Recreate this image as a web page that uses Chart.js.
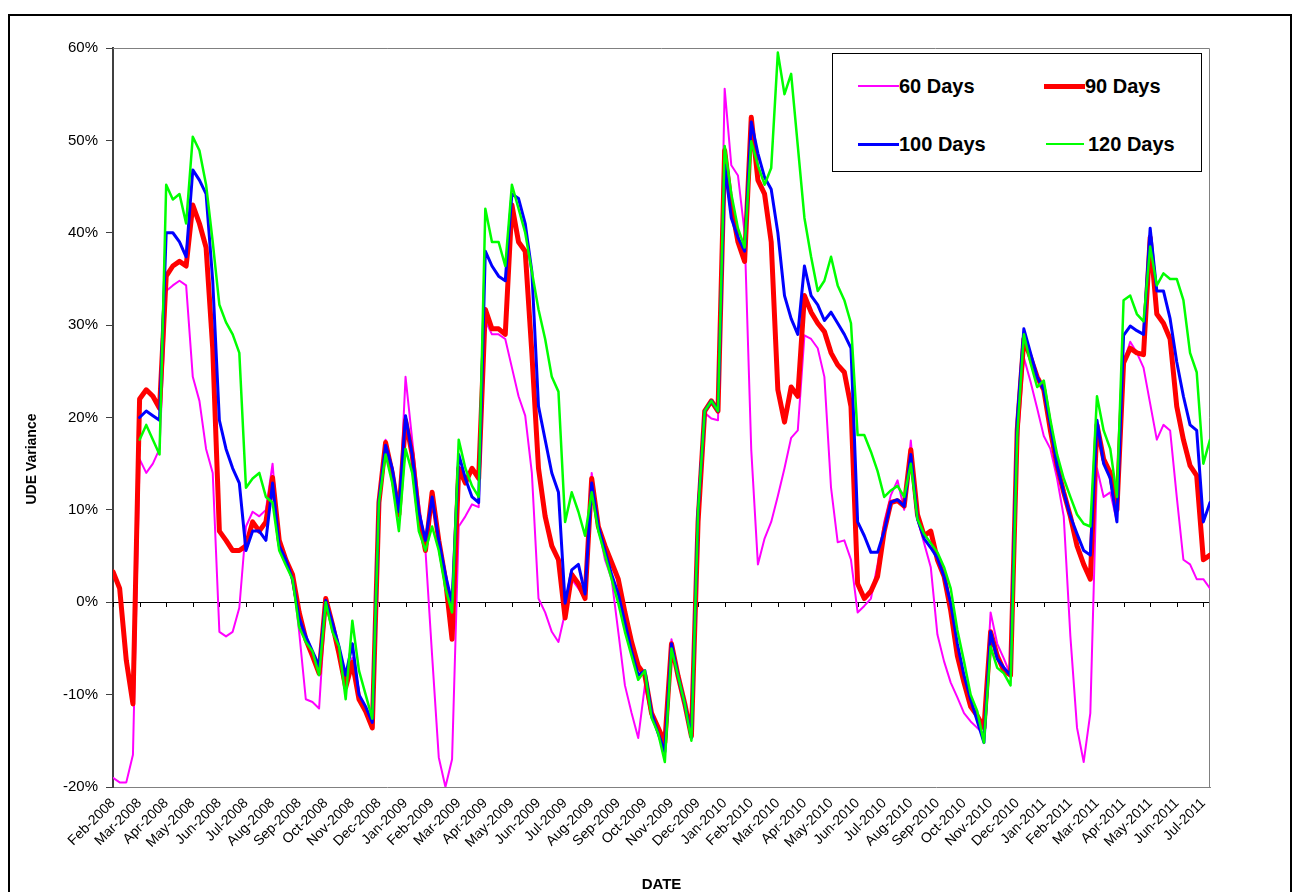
<!DOCTYPE html>
<html>
<head>
<meta charset="utf-8">
<script src="https://cdn.jsdelivr.net/npm/chart.js@4.4.1/dist/chart.umd.min.js"></script>
<style>
  html, body { margin: 0; padding: 0; background: #fff; }
  #wrap { position: relative; width: 1296px; height: 892px; overflow: hidden; }
  #frame { position: absolute; left: 8px; top: 14px; width: 1280px; height: 900px; border: 2px solid #000; }
  #udeChart { position: absolute; left: 0; top: 0; }
  #legend { position: absolute; left: 832px; top: 53px; width: 368px; height: 117px; border: 1px solid #000;
            background: #fff; font: bold 20px 'Liberation Sans', Arial, sans-serif; color: #000; }
  .item { position: absolute; height: 24px; display: flex; align-items: center; white-space: nowrap; }
  .swatch { width: 41px; }
</style>
</head>
<body>
<div id="wrap">
  <div id="frame"></div>
  <canvas id="udeChart" width="1296" height="892"></canvas>
  <div id="legend">
    <div class="item" style="left:25px; top:20px;"><div class="swatch" style="height:2px; background:#FF00FF;"></div><span>60 Days</span></div>
    <div class="item" style="left:211px; top:20px;"><div class="swatch" style="height:5px; background:#FF0000;"></div><span>90 Days</span></div>
    <div class="item" style="left:25px; top:78px;"><div class="swatch" style="height:3px; background:#0000FF;"></div><span>100 Days</span></div>
    <div class="item" style="left:213px; top:78px;"><div class="swatch" style="width:38px; height:2px; background:#00FF00;"></div><span style="margin-left:4px;">120 Days</span></div>
  </div>
</div>
<script>
// Month tick labels (one per month, Feb-2008 .. Jul-2011)
const monthLabels = [
  'Feb-2008','Mar-2008','Apr-2008','May-2008','Jun-2008','Jul-2008','Aug-2008','Sep-2008','Oct-2008','Nov-2008','Dec-2008',
  'Jan-2009','Feb-2009','Mar-2009','Apr-2009','May-2009','Jun-2009','Jul-2009','Aug-2009','Sep-2009','Oct-2009','Nov-2009','Dec-2009',
  'Jan-2010','Feb-2010','Mar-2010','Apr-2010','May-2010','Jun-2010','Jul-2010','Aug-2010','Sep-2010','Oct-2010','Nov-2010','Dec-2010',
  'Jan-2011','Feb-2011','Mar-2011','Apr-2011','May-2011','Jun-2011','Jul-2011'
];

// one sample per quarter month (approx weekly), values in %
const SAMPLES_PER_MONTH = 4;

const days60 = [
  -19, -19.5, -19.5, -16.5,   15.5, 14, 15, 16.6,   33.7, 34.3, 34.8, 34.3,   24.4, 21.8, 16.6, 14,
  -3.2, -3.7, -3.2, -0.6,   8.2, 9.8, 9.3, 10,   15, 6.1, 4.6, 3,   -3.2, -10.5, -10.8, -11.5,
  0, -2.7, -5.8, -8.5,   -6, -10.5, -11.8, -13.3,   10.8, 17.6, 14.5, 9,   24.4, 17.6, 10.8, 5.6,
  -5.8, -16.8, -20, -17,   8.2, 9.3, 10.6, 10.3,   30.5, 29, 29, 28.5,   25.4, 22.3, 20.2, 14,
  0.4, -1.1, -3.2, -4.3,   -1.1, 2.5, 1.5, 0.4,   14, 8.2, 4.6, 2.5,   -3.2, -9, -12, -14.7,
  -9, -12.5, -14, -16,   -4, -8, -11, -14.5,   9.8, 20.5, 19.9, 19.7,   55.6, 47.3, 46.2, 40,
  16.5, 4.1, 6.9, 8.7,   11.5, 14.5, 17.8, 18.6,   28.9, 28.5, 27.5, 24.4,   12.4, 6.5, 6.7, 4.6,
  -1.1, -0.4, 0.4, 4.1,   8.7, 11.6, 13.2, 10,   17.5, 9, 6.4, 3.8,   -3.5, -6.4, -8.7, -10.3,
  -12, -12.9, -13.6, -14.2,   -1.1, -4.5, -6.1, -7.9,   16.6, 26.5, 23.9, 21,   18, 16.6, 13.4, 9.3,
  -3.7, -13.6, -17.3, -12,   14.5, 11.4, 11.9, 8.7,   25.9, 28.2, 27, 25.4,   21.5, 17.6, 19.2, 18.6,
  11.4, 4.6, 4.1, 2.5,   2.5, 1.5
];

const days90 = [
  3.3, 1.5, -6.3, -11,   22, 23, 22.3, 21,   35.3, 36.4, 36.9, 36.4,   43, 41, 38.4, 27.5,
  7.7, 6.7, 5.6, 5.6,   6.1, 8.7, 7.7, 8.7,   13.5, 6.7, 4.6, 3,   -1.1, -4, -5.8, -7.7,
  0.4, -2.4, -5.6, -9.2,   -6.5, -10.5, -11.8, -13.6,   10.8, 17.3, 14, 9.5,   19.7, 16, 9.3, 5.6,
  11.9, 6.7, 2.5, -4,   14.5, 12.9, 14.5, 13.4,   31.7, 29.6, 29.6, 29,   43, 39, 38, 27,
  14.5, 9.3, 6.1, 4.6,   -1.7, 3, 2, 0.4,   13.4, 8.2, 6.1, 4.3,   2.5, -1.1, -4.3, -6.9,
  -7.9, -12, -13.6, -15.2,   -4.5, -8, -11, -14.5,   8.7, 20.7, 21.8, 20.7,   48.9, 43, 39, 36.9,
  52.5, 45.7, 44.2, 39,   23, 19.5, 23.3, 22.3,   33.2, 31.4, 30.2, 29.3,   27, 25.7, 24.9, 21.2,
  2, 0.4, 1.2, 2.8,   7.7, 10.8, 11, 10.4,   16.5, 9.5, 7.2, 7.7,   4.6, 2.8, -0.9, -5.8,
  -8.7, -11.3, -12.3, -13.6,   -3.2, -5.8, -7.4, -7.9,   18.6, 28.5, 26.5, 24.4,   23, 18.6, 14.8, 11.9,
  9.3, 6.1, 4.1, 2.5,   19.2, 15.5, 14, 10,   25.9, 27.5, 27, 26.8,   39.5, 31.2, 30.2, 28.5,
  21.2, 17.6, 14.8, 13.7,   4.6, 5.1
];

const days100 = [
  null, null, null, null,   20, 20.7, 20.2, 19.7,   40, 40, 39, 37.4,   46.8, 45.7, 44.2, 34.8,
  19.7, 16.6, 14.5, 12.9,   5.6, 7.7, 7.7, 6.7,   12.9, 6.1, 4.6, 2.5,   -1.7, -3.7, -5.3, -6.9,
  0.2, -2.2, -4.8, -7.9,   -4.5, -10, -11.3, -13,   11, 17, 14.5, 9.8,   20.2, 16, 9.8, 6.7,
  11.4, 6.7, 3, -0.1,   16, 13.4, 11.4, 10.8,   38, 36.4, 35.3, 34.8,   44.2, 43.7, 41, 35.8,
  21.2, 17.6, 14, 11.9,   -0.1, 3.5, 4.1, 0.9,   12.9, 8.2, 5.6, 3,   0.9, -2.2, -5.3, -7.9,
  -7.4, -12, -14.2, -16.2,   -4.5, -8, -11, -14.7,   9.8, 20.7, 21.8, 20.7,   47.3, 41.6, 39.5, 38,
  52, 48.6, 46, 44.7,   40, 33.2, 30.7, 29,   36.4, 33.2, 32.2, 30.5,   31.4, 30.2, 29, 27.5,
  8.7, 7.2, 5.4, 5.4,   7.7, 10.8, 11.1, 10.4,   16, 9, 6.9, 5.9,   4.8, 2.8, -0.1, -4.5,
  -7.9, -10.5, -12.9, -15.2,   -3.2, -6.1, -7.1, -7.9,   19.7, 29.6, 27, 24.4,   23, 19.2, 14.8, 11.9,
  9.3, 7.4, 5.6, 5.1,   19.7, 15, 13.4, 8.7,   28.9, 29.9, 29.4, 29,   40.5, 33.7, 33.7, 30.7,
  26, 22.3, 19.2, 18.6,   8.7, 10.8
];

const days120 = [
  null, null, null, null,   17.6, 19.2, 17.6, 16,   45.2, 43.6, 44.2, 41,   50.4, 48.9, 45.2, 39,
  32.2, 30.3, 29, 27,   12.4, 13.4, 14, 11.4,   10.8, 5.6, 4, 2.5,   -2.7, -4.3, -5.3, -7.9,
  0, -3.2, -4.8, -10.5,   -2, -7.4, -10, -12.6,   10.8, 16, 12.9, 7.7,   16.6, 14, 7.7, 5.6,
  8.2, 5.6, 1.5, -1.1,   17.6, 14.5, 12.6, 11.4,   42.6, 39, 39, 36.4,   45.2, 42.6, 40, 35.8,
  31.7, 28.5, 24.4, 22.8,   8.7, 11.9, 9.8, 7.2,   11.9, 7.7, 5.1, 2.5,   -0.1, -3.2, -5.8, -8.4,
  -7.4, -12.5, -14.2, -17.3,   -5, -8, -11, -15,   9.8, 20.7, 21.8, 20.7,   49.4, 44.2, 40.5, 38.4,
  49.9, 47.3, 45.2, 47,   59.5, 55, 57.2, 49.4,   41.6, 37.4, 33.7, 34.8,   37.4, 34.3, 32.7, 30.2,
  18.1, 18.1, 16.3, 14.2,   11.4, 12.1, 12.6, 11.4,   15, 9, 7.4, 6.4,   5.4, 3.8, 1.5, -3,
  -6.4, -10, -11.8, -15.2,   -4.8, -7.1, -7.7, -9,   18.1, 29, 25.9, 23.3,   24, 19.7, 16, 13.4,
  11.4, 9.5, 8.5, 8.2,   22.3, 18.6, 16.6, 11.4,   32.7, 33.2, 31.2, 30.4,   38.5, 34.3, 35.6, 35,
  35, 32.7, 27, 24.9,   15, 17.6
];

const FONT = "'Liberation Sans', Arial, sans-serif";
const NARROW = "'Liberation Sans Narrow', 'Arial Narrow', 'Liberation Sans', Arial, sans-serif";

function toPoints(values) {
    return values.map((v, i) => ({ x: i / SAMPLES_PER_MONTH, y: v }));
}

// gray plot border, small month ticks on the zero line and the y title (Excel style)
const plotFrame = {
    id: 'plotFrame',
    beforeDatasetsDraw(chart) {
        const { ctx, chartArea: a, scales } = chart;
        ctx.save();
        ctx.strokeStyle = '#808080';
        ctx.lineWidth = 1;
        ctx.beginPath();
        ctx.moveTo(a.left, a.top + 0.5);
        ctx.lineTo(a.right - 0.5, a.top + 0.5);
        ctx.lineTo(a.right - 0.5, a.bottom);
        ctx.stroke();

        const y0 = Math.round(scales.y.getPixelForValue(0));
        ctx.strokeStyle = '#000';
        ctx.beginPath();
        scales.x.ticks.forEach(t => {
            const px = Math.round(scales.x.getPixelForValue(t.value)) + 0.5;
            ctx.moveTo(px, y0);
            ctx.lineTo(px, y0 + 5);
        });
        ctx.stroke();
        ctx.restore();
    },
    afterDraw(chart) {
        const { ctx, scales } = chart;
        ctx.save();
        ctx.translate(32, scales.y.getPixelForValue(15.5));
        ctx.rotate(-Math.PI / 2);
        ctx.textAlign = 'center';
        ctx.textBaseline = 'middle';
        ctx.fillStyle = '#000';
        ctx.font = 'bold 14px ' + NARROW;
        ctx.fillText('UDE Variance', 0, 0);
        ctx.restore();
    }
};

const ctx = document.getElementById('udeChart').getContext('2d');
const chart = new Chart(ctx, {
    type: 'line',
    data: {
        datasets: [
            { label: '60 Days', data: toPoints(days60), borderColor: '#FF00FF', borderWidth: 2, order: 4 },
            { label: '90 Days', data: toPoints(days90), borderColor: '#FF0000', borderWidth: 5, order: 3 },
            { label: '100 Days', data: toPoints(days100), borderColor: '#0000FF', borderWidth: 3, order: 2 },
            { label: '120 Days', data: toPoints(days120), borderColor: '#00FF00', borderWidth: 2.5, order: 1 }
        ]
    },
    options: {
        responsive: false,
        animation: false,
        layout: { padding: { top: 48, right: 86, left: 0, bottom: 0 } },
        elements: {
            point: { radius: 0 },
            line: { tension: 0, borderJoinStyle: 'round', borderCapStyle: 'round' }
        },
        plugins: { legend: { display: false }, tooltip: { enabled: false } },
        scales: {
            x: {
                type: 'linear',
                min: 0,
                max: 41.25,
                grid: { display: false, drawTicks: false },
                border: { display: true, color: '#808080', width: 1 },
                ticks: {
                    stepSize: 1,
                    autoSkip: false,
                    includeBounds: false,
                    minRotation: 45,
                    maxRotation: 45,
                    padding: 8,
                    color: '#000',
                    font: { family: FONT, size: 14 },
                    callback: v => monthLabels[v] ?? ''
                },
                title: { display: true, text: 'DATE', color: '#000', font: { family: NARROW, size: 15, weight: 'bold' }, padding: { top: 0, bottom: -2 } },
                afterFit: s => { s.height = 105; }
            },
            y: {
                min: -20,
                max: 60,
                grid: {
                    color: c => (c.tick && c.tick.value === 0) ? '#000' : 'rgba(0,0,0,0)',
                    tickColor: '#404040',
                    tickLength: 7,
                    lineWidth: 1
                },
                border: { color: '#404040', width: 2 },
                ticks: {
                    stepSize: 10,
                    padding: 8,
                    color: '#000',
                    font: { family: FONT, size: 15 },
                    callback: v => v + '%'
                },
                afterFit: s => { s.width = 113; }
            }
        }
    },
    plugins: [plotFrame]
});
</script>
</body>
</html>
